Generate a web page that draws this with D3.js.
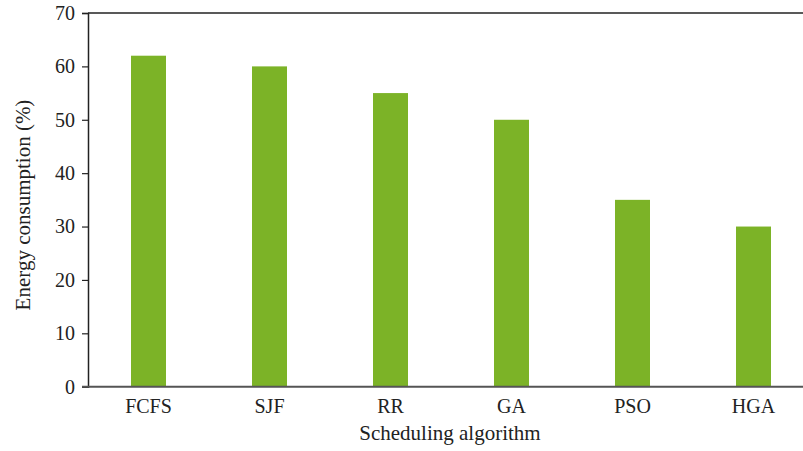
<!DOCTYPE html>
<html><head><meta charset="utf-8">
<script src="https://cdn.jsdelivr.net/npm/d3@7"></script>
<style>body{margin:0;background:#fff}svg{display:block}text{font-family:"Liberation Serif","Times New Roman",serif;fill:#222}</style>
</head><body><svg id="c" width="803" height="451"></svg>
<script>
const categories = ["FCFS","SJF","RR","GA","PSO","HGA"];
const values = [62,60,55,50,35,30];
const yTicks = [0,10,20,30,40,50,60,70];

const svg = d3.select("#c");
const mLeft = 88, mTop = 13, mBottom = 386.7, mRight = 814;
const x = d3.scaleBand().domain(categories).range([mLeft, mRight]).padding(0);
const y = d3.scaleLinear().domain([0,70]).range([mBottom, mTop]);
const barW = 35;

svg.selectAll("rect.bar").data(values).enter().append("rect")
  .attr("x",(d,i)=>x(categories[i])+x.bandwidth()/2-barW/2)
  .attr("y",d=>y(d)).attr("width",barW).attr("height",d=>y(0)-y(d))
  .attr("fill","#7cb327");

// top frame line
svg.append("line").attr("x1",mLeft).attr("x2",803).attr("y1",mTop).attr("y2",mTop)
  .attr("stroke","#222").attr("stroke-width",1.5);

// y axis
const ya = svg.append("g").attr("transform",`translate(${mLeft},0)`)
  .call(d3.axisLeft(y).tickValues(yTicks).tickSize(6).tickPadding(7));
ya.select(".domain").attr("stroke","#222").attr("stroke-width",1.5);
ya.selectAll(".tick line").attr("stroke","#222").attr("stroke-width",1.2);
ya.selectAll("text").style("font-size","20px").attr("fill","#222");

// x axis
const xa = svg.append("g").attr("transform",`translate(0,${mBottom})`)
  .call(d3.axisBottom(x).tickSize(0).tickPadding(12));
xa.select(".domain").attr("stroke","#555").attr("stroke-width",2).attr("d",`M${mLeft-6},0H803`);
xa.selectAll("text").style("font-size","20px").attr("fill","#222");

svg.append("text").attr("x",450).attr("y",440).attr("text-anchor","middle")
  .style("font-size","21px").text("Scheduling algorithm");
svg.append("text").attr("transform",`translate(30,205) rotate(-90)`)
  .attr("text-anchor","middle").style("font-size","21px").text("Energy consumption (%)");
</script></body></html>
